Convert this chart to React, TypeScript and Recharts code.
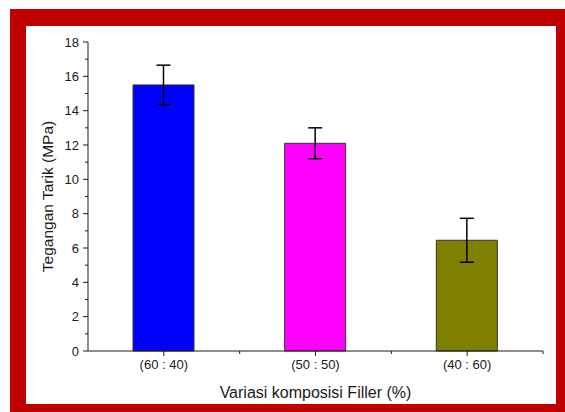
import { Bar, BarChart, Cell, ErrorBar, Label, XAxis, YAxis } from "recharts";

const categories = ["(60 : 40)", "(50 : 50)", "(40 : 60)"];
const tensile = [15.5, 12.1, 6.45];
const tensileErr = [1.15, 0.9, 1.28];
const barColors = ["#0000ff", "#ff00ff", "#808000"];
const yTicks = [0, 1, 2, 3, 4, 5, 6, 7, 8, 9, 10, 11, 12, 13, 14, 15, 16, 17, 18];

const W = 565;
const H = 412;
const MARGIN = { top: 42, right: 22, bottom: 11, left: 6 };
const Y_AXIS_W = 82;
const X_AXIS_H = 50;
const FONT = "'Liberation Sans', Arial, sans-serif";
const INK = "#1a1a1a";

const rows = categories.map((name, i) => ({
  name,
  value: tensile[i],
  err: tensileErr[i],
}));

const bandWidth = (W - MARGIN.left - MARGIN.right - Y_AXIS_W) / categories.length;

function YTick(props: any) {
  const { x, y, payload } = props;
  const major = payload.value % 2 === 0;
  return (
    <g>
      <line x1={x} x2={x - (major ? 5 : 3)} y1={y} y2={y} stroke={INK} strokeWidth={1} />
      {major && (
        <text
          x={x - 9}
          y={y}
          dy="0.35em"
          textAnchor="end"
          fontSize={13}
          fontFamily={FONT}
          fill={INK}
        >
          {payload.value}
        </text>
      )}
    </g>
  );
}

function XTick(props: any) {
  const { x, y, payload } = props;
  const half = bandWidth / 2;
  return (
    <g>
      <line x1={x} x2={x} y1={y} y2={y + 5} stroke={INK} strokeWidth={1} />
      <line x1={x + half} x2={x + half} y1={y} y2={y + 3} stroke={INK} strokeWidth={1} />
      <text
        x={x}
        y={y + 9}
        dy="0.71em"
        textAnchor="middle"
        fontSize={13}
        fontFamily={FONT}
        fill={INK}
      >
        {payload.value}
      </text>
    </g>
  );
}

export default function App() {
  return (
    <div style={{ position: "absolute", left: 0, top: 0, width: W, height: H, background: "#fff" }}>
      <div
        style={{
          position: "absolute",
          left: 10,
          top: 9,
          width: W - 10,
          height: H - 9,
          background: "#c00000",
        }}
      />
      <div
        style={{
          position: "absolute",
          left: 26,
          top: 26,
          width: 530,
          height: 378,
          background: "#fff",
        }}
      />
      <div style={{ position: "absolute", left: 0, top: 0 }}>
        <BarChart width={W} height={H} data={rows} margin={MARGIN} barSize={61}>
          <XAxis
            dataKey="name"
            height={X_AXIS_H}
            tickLine={false}
            tickSize={0}
            tickMargin={0}
            tick={<XTick />}
            interval={0}
            axisLine={{ stroke: INK, strokeWidth: 1 }}
          >
            <Label
              value="Variasi komposisi Filler (%)"
              position="insideBottom"
              offset={3}
              fontSize={16}
              fontFamily={FONT}
              fill={INK}
            />
          </XAxis>
          <YAxis
            width={Y_AXIS_W}
            domain={[0, 18]}
            ticks={yTicks}
            interval={0}
            tickLine={false}
            tickSize={0}
            tickMargin={0}
            tick={<YTick />}
            axisLine={{ stroke: INK, strokeWidth: 1 }}
          >
            <Label
              value="Tegangan Tarik (MPa)"
              angle={-90}
              position="center"
              fontSize={15.5}
              fontFamily={FONT}
              fill={INK}
            />
          </YAxis>
          <Bar dataKey="value" stroke="#333" strokeWidth={1} isAnimationActive={false}>
            {rows.map((r, i) => (
              <Cell key={r.name} fill={barColors[i]} />
            ))}
            <ErrorBar dataKey="err" width={7} stroke="#000" strokeWidth={1.5} />
          </Bar>
        </BarChart>
      </div>
    </div>
  );
}
